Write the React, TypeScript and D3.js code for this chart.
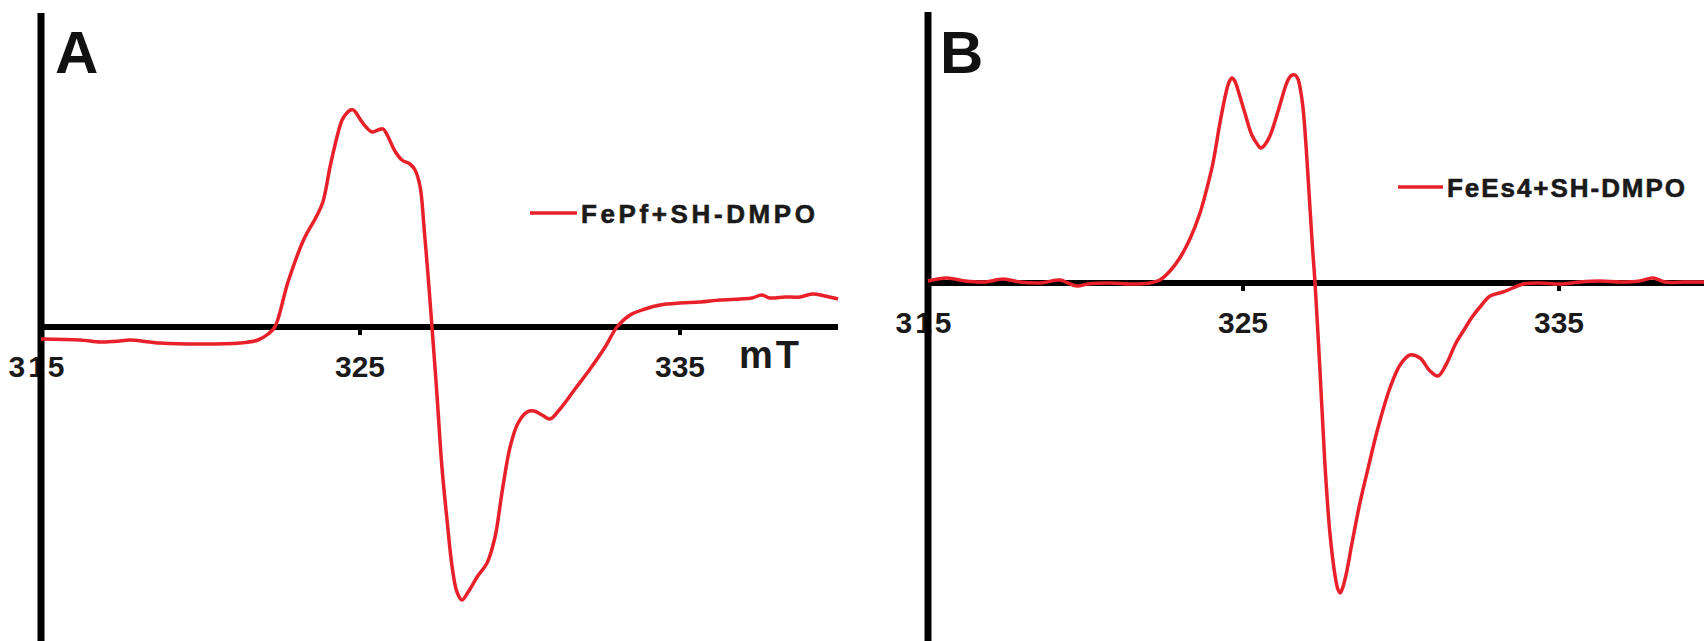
import React from "react";
import * as d3 from "d3";

// Panel A: FePf+SH-DMPO (field in mT, intensity in a.u.)
const fieldA = [315.03, 316.25, 316.9, 317.5, 317.8, 318.75, 320.0, 321.25, 321.81, 322.13, 322.34, 322.75, 323.25, 323.63, 323.84, 324.09, 324.44, 324.59, 324.7, 324.8, 324.9, 325.0, 325.19, 325.38, 325.56, 325.72, 325.88, 326.09, 326.31, 326.56, 326.72, 326.88, 327.0, 327.13, 327.25, 327.41, 327.56, 327.72, 327.88, 328.03, 328.19, 328.38, 328.66, 328.97, 329.22, 329.44, 329.69, 329.94, 330.22, 330.44, 330.69, 330.94, 331.25, 331.72, 332.19, 332.66, 333.03, 333.44, 333.91, 334.38, 335.0, 335.63, 336.25, 336.88, 337.25, 337.56, 337.81, 338.28, 338.75, 339.13, 339.53, 339.94];
const intensityA = [-12, -13, -15, -14, -13, -16, -17, -16, -13, -7, 0, 45, 88, 110, 125, 164, 207, 214, 217, 217, 213, 208, 200, 195, 197, 198, 190, 176, 167, 163, 157, 140, 100, 50, 0, -70, -140, -193, -240, -265, -273, -265, -250, -236, -210, -165, -120, -96, -85, -84, -88, -92, -82, -62, -42, -20, 0, 12, 18, 22, 24, 25, 27, 28, 29, 32, 29, 30, 30, 33, 31, 28];

// Panel B: FeEs4+SH-DMPO
const fieldB = [315.03, 315.63, 316.2, 316.84, 317.41, 317.94, 318.58, 319.21, 319.46, 319.75, 320.09, 320.79, 321.42, 322.06, 322.37, 322.69, 323.0, 323.32, 323.64, 323.86, 324.05, 324.27, 324.46, 324.56, 324.65, 324.74, 324.84, 325.06, 325.28, 325.47, 325.56, 325.66, 325.85, 326.11, 326.36, 326.46, 326.56, 326.65, 326.74, 326.82, 326.9, 327.0, 327.1, 327.2, 327.28, 327.44, 327.59, 327.75, 327.91, 328.0, 328.07, 328.14, 328.26, 328.45, 328.7, 328.96, 329.27, 329.65, 329.97, 330.28, 330.6, 330.92, 331.17, 331.42, 331.74, 332.03, 332.25, 332.5, 332.82, 333.23, 333.54, 333.86, 334.4, 335.03, 335.66, 336.3, 336.93, 337.56, 337.97, 338.35, 338.99, 339.59];
const intensityB = [2, 5, 2, 1, 4, 1, 0, 3, 0, -3, -1, 0, -1, 0, 3, 12, 25, 44, 70, 95, 120, 160, 190, 201, 205, 202, 193, 170, 148, 138, 135, 137, 147, 172, 198, 205, 208, 208, 204, 193, 175, 135, 85, 35, 0, -90, -180, -250, -292, -306, -310, -306, -292, -260, -220, -185, -145, -105, -82, -72, -75, -88, -93, -82, -60, -45, -34, -24, -13, -9, -5, -1, 0, -1, 1, 2, 1, 2, 5, 1, 1, 1];

const tickValues = [315, 325, 335];
const tickLabels = ["315", "325", "335"];
const legendA = "FePf+SH-DMPO";
const legendB = "FeEs4+SH-DMPO";
const unitLabel = "mT";

const RED = "#e8202a";
const FONT = "'Liberation Sans', Arial, Helvetica, sans-serif";

type PanelProps = {
  fields: number[];
  values: number[];
  xRange: [number, number];
  yDomain: [number, number];
  yTop: number;
  axisEnd: number;
  letter: string;
  letterX: number;
  legend: string;
  legendLine: [number, number];
  legendY: number;
  legendTextEnd: number;
  labelOffset: number;
  unit?: { x: number; y: number };
};

function Panel(p: PanelProps) {
  const x = d3.scaleLinear().domain([315, 340]).range(p.xRange);
  const y = d3.scaleLinear().domain(p.yDomain).range([641, p.yTop]);
  const pts: [number, number][] = p.fields.map((f, i) => [f, p.values[i]]);
  const line = d3
    .line<[number, number]>()
    .x((d) => x(d[0]))
    .y((d) => y(d[1]))
    .curve(d3.curveCatmullRom.alpha(0.5));
  const y0 = y(0);
  const x0 = x(315);
  const textStart = p.legendLine[1] + 4;
  return (
    <g>
      {tickValues.map((t, i) => (
        <text
          key={t}
          x={x(t) + (t === 315 ? -2 : 0)}
          y={y0 + p.labelOffset}
          textAnchor="middle"
          fontFamily={FONT}
          fontWeight="bold"
          fontSize={30}
          fill="#1a1a1a"
          letterSpacing={t === 315 ? 3 : 0}
        >
          {tickLabels[i]}
        </text>
      ))}
      {tickValues.slice(1).map((t) => (
        <line key={"t" + t} x1={x(t)} x2={x(t)} y1={y0} y2={y0 + 8} stroke="#000" strokeWidth={4} />
      ))}
      <line x1={x0} x2={p.axisEnd} y1={y0} y2={y0} stroke="#000" strokeWidth={6} />
      <line x1={x0 + 1} x2={x0 + 1} y1={p.yTop} y2={641} stroke="#000" strokeWidth={7} />
      <path d={line(pts) || ""} fill="none" stroke={RED} strokeWidth={3.5} strokeLinejoin="round" />
      <text x={p.letterX} y={73} fontFamily={FONT} fontWeight="bold" fontSize={60} fill="#111">
        {p.letter}
      </text>
      <line x1={p.legendLine[0]} x2={p.legendLine[1]} y1={p.legendY} y2={p.legendY} stroke={RED} strokeWidth={3.5} />
      <text
        x={textStart}
        y={p.legendY + 9.5}
        fontFamily={FONT}
        fontWeight="bold"
        fontSize={26}
        fill="#1a1a1a"
        stroke="#1a1a1a"
        strokeWidth={0.6}
        textLength={p.legendTextEnd - textStart}
        lengthAdjust="spacing"
      >
        {p.legend}
      </text>
      {p.unit && (
        <text x={p.unit.x} y={p.unit.y} fontFamily={FONT} fontWeight="bold" fontSize={38} fill="#1a1a1a" letterSpacing={3}>
          {unitLabel}
        </text>
      )}
    </g>
  );
}

export default function App() {
  return (
    <div>
      <style>{`body{margin:0}`}</style>
      <svg width={1704} height={641} style={{ display: "block", background: "#fff" }}>
        <Panel
          fields={fieldA}
          values={intensityA}
          xRange={[40, 840]}
          yDomain={[-314, 314]}
          yTop={13}
          axisEnd={838}
          letter="A"
          letterX={55}
          legend={legendA}
          legendLine={[530, 577]}
          legendY={213}
          legendTextEnd={815}
          labelOffset={50}
          unit={{ x: 739, y: 368 }}
        />
        <Panel
          fields={fieldB}
          values={intensityB}
          xRange={[927, 1717]}
          yDomain={[-358, 271]}
          yTop={12}
          axisEnd={1704}
          letter="B"
          letterX={940}
          legend={legendB}
          legendLine={[1398, 1443]}
          legendY={187}
          legendTextEnd={1685}
          labelOffset={50}
        />
      </svg>
    </div>
  );
}
